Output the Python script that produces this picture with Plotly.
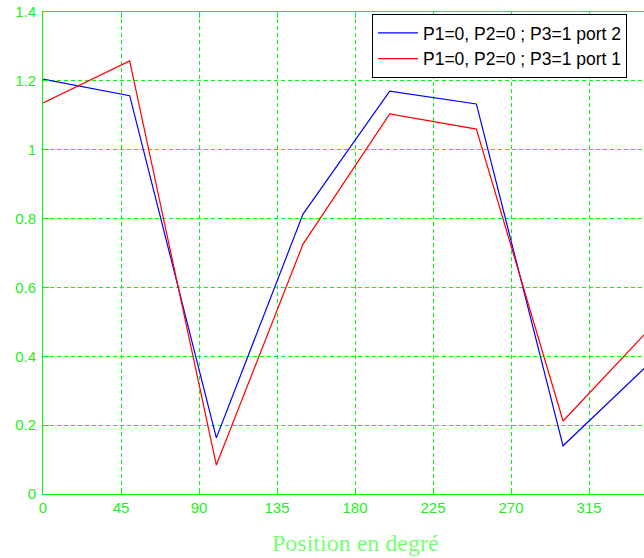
import plotly.graph_objects as go

positions = [0, 50, 100, 150, 200, 250, 300, 350]
port2 = [1.205, 1.157, 0.163, 0.813, 1.170, 1.133, 0.140, 0.380]
port1 = [1.136, 1.258, 0.084, 0.726, 1.104, 1.060, 0.212, 0.480]
x_ticks = [0, 45, 90, 135, 180, 225, 270, 315]
y_ticks = [0, 0.2, 0.4, 0.6, 0.8, 1, 1.2, 1.4]
y_labels = ["0", "0.2", "0.4", "0.6", "0.8", "1", "1.2", "1.4"]

GREEN = "#00ff00"
TICKFONT = dict(family="Liberation Sans, Arial", size=15, color="#22f022")

fig = go.Figure()
fig.add_trace(go.Scatter(x=positions, y=port2, mode="lines",
                         line=dict(color="#0000ff", width=1.2),
                         name="P1=0, P2=0 ; P3=1 port 2"))
fig.add_trace(go.Scatter(x=positions, y=port1, mode="lines",
                         line=dict(color="#ff0000", width=1.2),
                         name="P1=0, P2=0 ; P3=1 port 1"))

fig.update_layout(
    width=644, height=558,
    margin=dict(l=43, r=0, t=12, b=64, autoexpand=False),
    paper_bgcolor="white", plot_bgcolor="white",
    showlegend=True,
    legend=dict(x=(372 - 43) / 601, y=0.996, xanchor="left", yanchor="top",
                bgcolor="white", bordercolor="black", borderwidth=1,
                font=dict(family="Liberation Sans, Arial", size=17.5, color="black"),
                tracegroupgap=0, itemwidth=40),
    xaxis=dict(range=[0, 346.7], tickvals=x_ticks, ticktext=[str(v) for v in x_ticks],
               showgrid=True, gridcolor=GREEN, griddash="4px,3px", gridwidth=1,
               showline=True, linecolor=GREEN, linewidth=1, mirror="ticks",
               ticks="inside", ticklen=6, tickcolor=GREEN, automargin=False,
               ticklabeloverflow="allow",
               tickfont=TICKFONT, zeroline=False),
    yaxis=dict(range=[0, 1.4], tickvals=y_ticks, ticktext=y_labels,
               showgrid=True, gridcolor=GREEN, griddash="4px,3px", gridwidth=1,
               showline=True, linecolor=GREEN, linewidth=1, automargin=False,
               ticks="inside", ticklen=6, tickcolor=GREEN, ticklabelstandoff=3,
               ticklabeloverflow="allow",
               tickfont=TICKFONT, zeroline=False),
    annotations=[dict(text="Position en degré", xref="x", yref="paper",
                      x=180, y=0, xanchor="center", yanchor="middle",
                      yshift=-49, showarrow=False,
                      font=dict(family="Liberation Serif, Times New Roman", size=24,
                                color="#77ff77"))],
)

fig.write_html("out.html",
               config={"displayModeBar": False},
               post_script="document.body.style.margin='0';"
                           "document.body.style.overflow='hidden';")
